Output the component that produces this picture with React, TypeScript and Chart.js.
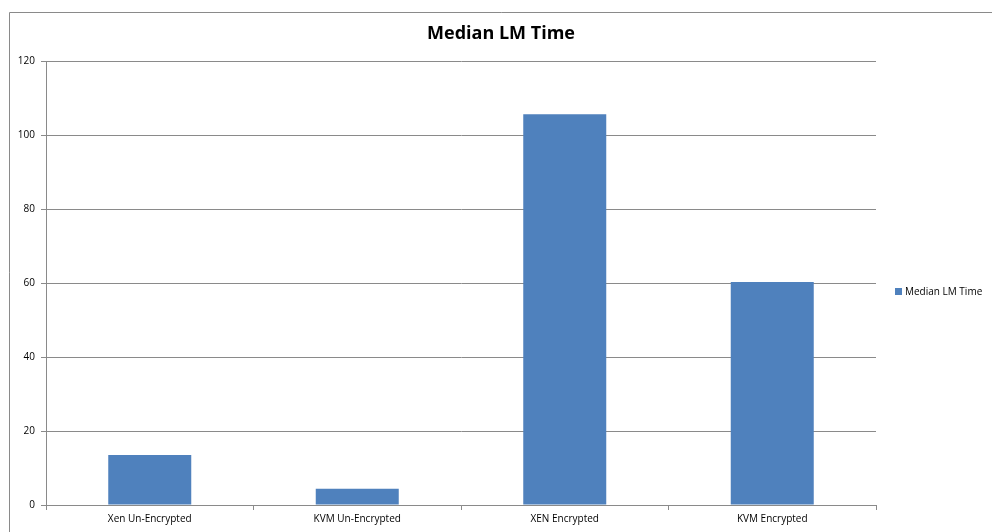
import React, { useEffect, useRef } from "react";
import { Chart, registerables } from "chart.js";

Chart.register(...registerables);

const categories = ["Xen Un-Encrypted", "KVM Un-Encrypted", "XEN Encrypted", "KVM Encrypted"];
const seriesName = "Median LM Time";
const medianLmTime = [13.5, 4.4, 105.6, 60.3];
const yTicks = [0, 20, 40, 60, 80, 100, 120];
const chartTitle = "Median LM Time";

const BAR_COLOR = "#4F81BD";
const GRID_COLOR = "#8a8a8a";
const FONT = "'Open Sans', 'Liberation Sans', sans-serif";

const decorPlugin = {
  id: "decor",
  afterDraw(chart: any) {
    const ctx = chart.ctx;
    ctx.save();
    // outer chart border
    ctx.strokeStyle = GRID_COLOR;
    ctx.lineWidth = 1;
    ctx.beginPath();
    ctx.moveTo(9.5, 600);
    ctx.lineTo(9.5, 12.5);
    ctx.lineTo(1200, 12.5);
    ctx.stroke();
    // title
    ctx.fillStyle = "#000";
    ctx.font = `bold 18px ${FONT}`;
    ctx.textAlign = "center";
    ctx.textBaseline = "middle";
    ctx.fillText(chartTitle, 501, 34);
    // legend
    ctx.fillStyle = BAR_COLOR;
    ctx.fillRect(895, 288, 7, 7);
    ctx.fillStyle = "#000";
    ctx.font = `10px ${FONT}`;
    ctx.textAlign = "left";
    ctx.fillText(seriesName, 905, 292);
    ctx.restore();
  },
};

export default function App() {
  const ref = useRef<HTMLCanvasElement | null>(null);
  useEffect(() => {
    document.body.style.margin = "0";
    const canvas = ref.current;
    if (!canvas) return;
    const chart = new Chart(canvas, {
      type: "bar",
      data: {
        labels: categories,
        datasets: [
          {
            label: seriesName,
            data: medianLmTime,
            backgroundColor: BAR_COLOR,
            borderWidth: 0,
            barPercentage: 0.4,
            categoryPercentage: 1,
          },
        ],
      },
      options: {
        animation: false,
        responsive: false,
        maintainAspectRatio: false,
        layout: { padding: { left: 0, top: 61, right: 116, bottom: 0 } },
        plugins: {
          legend: { display: false },
          title: { display: false },
          tooltip: { enabled: false },
        },
        scales: {
          x: {
            offset: true,
            grid: {
              display: true,
              drawOnChartArea: false,
              offset: true,
              color: GRID_COLOR,
              tickLength: 5,
            },
            border: { display: true, color: GRID_COLOR },
            ticks: {
              color: "#000",
              font: { family: FONT, size: 10 },
              padding: 3,
              maxRotation: 0,
              autoSkip: false,
            },
            afterFit(scale: any) {
              scale.height = 27;
            },
          },
          y: {
            min: 0,
            max: 120,
            afterBuildTicks(scale: any) {
              scale.ticks = yTicks.map((v) => ({ value: v }));
            },
            grid: {
              color: GRID_COLOR,
              tickLength: 5,
            },
            border: { display: true, color: GRID_COLOR },
            ticks: {
              color: "#000",
              font: { family: FONT, size: 10 },
              padding: 6,
            },
            afterFit(scale: any) {
              scale.width = 46;
            },
          },
        },
      },
      plugins: [decorPlugin],
    });
    return () => chart.destroy();
  }, []);
  return <canvas ref={ref} width={992} height={532} style={{ display: "block" }} />;
}
